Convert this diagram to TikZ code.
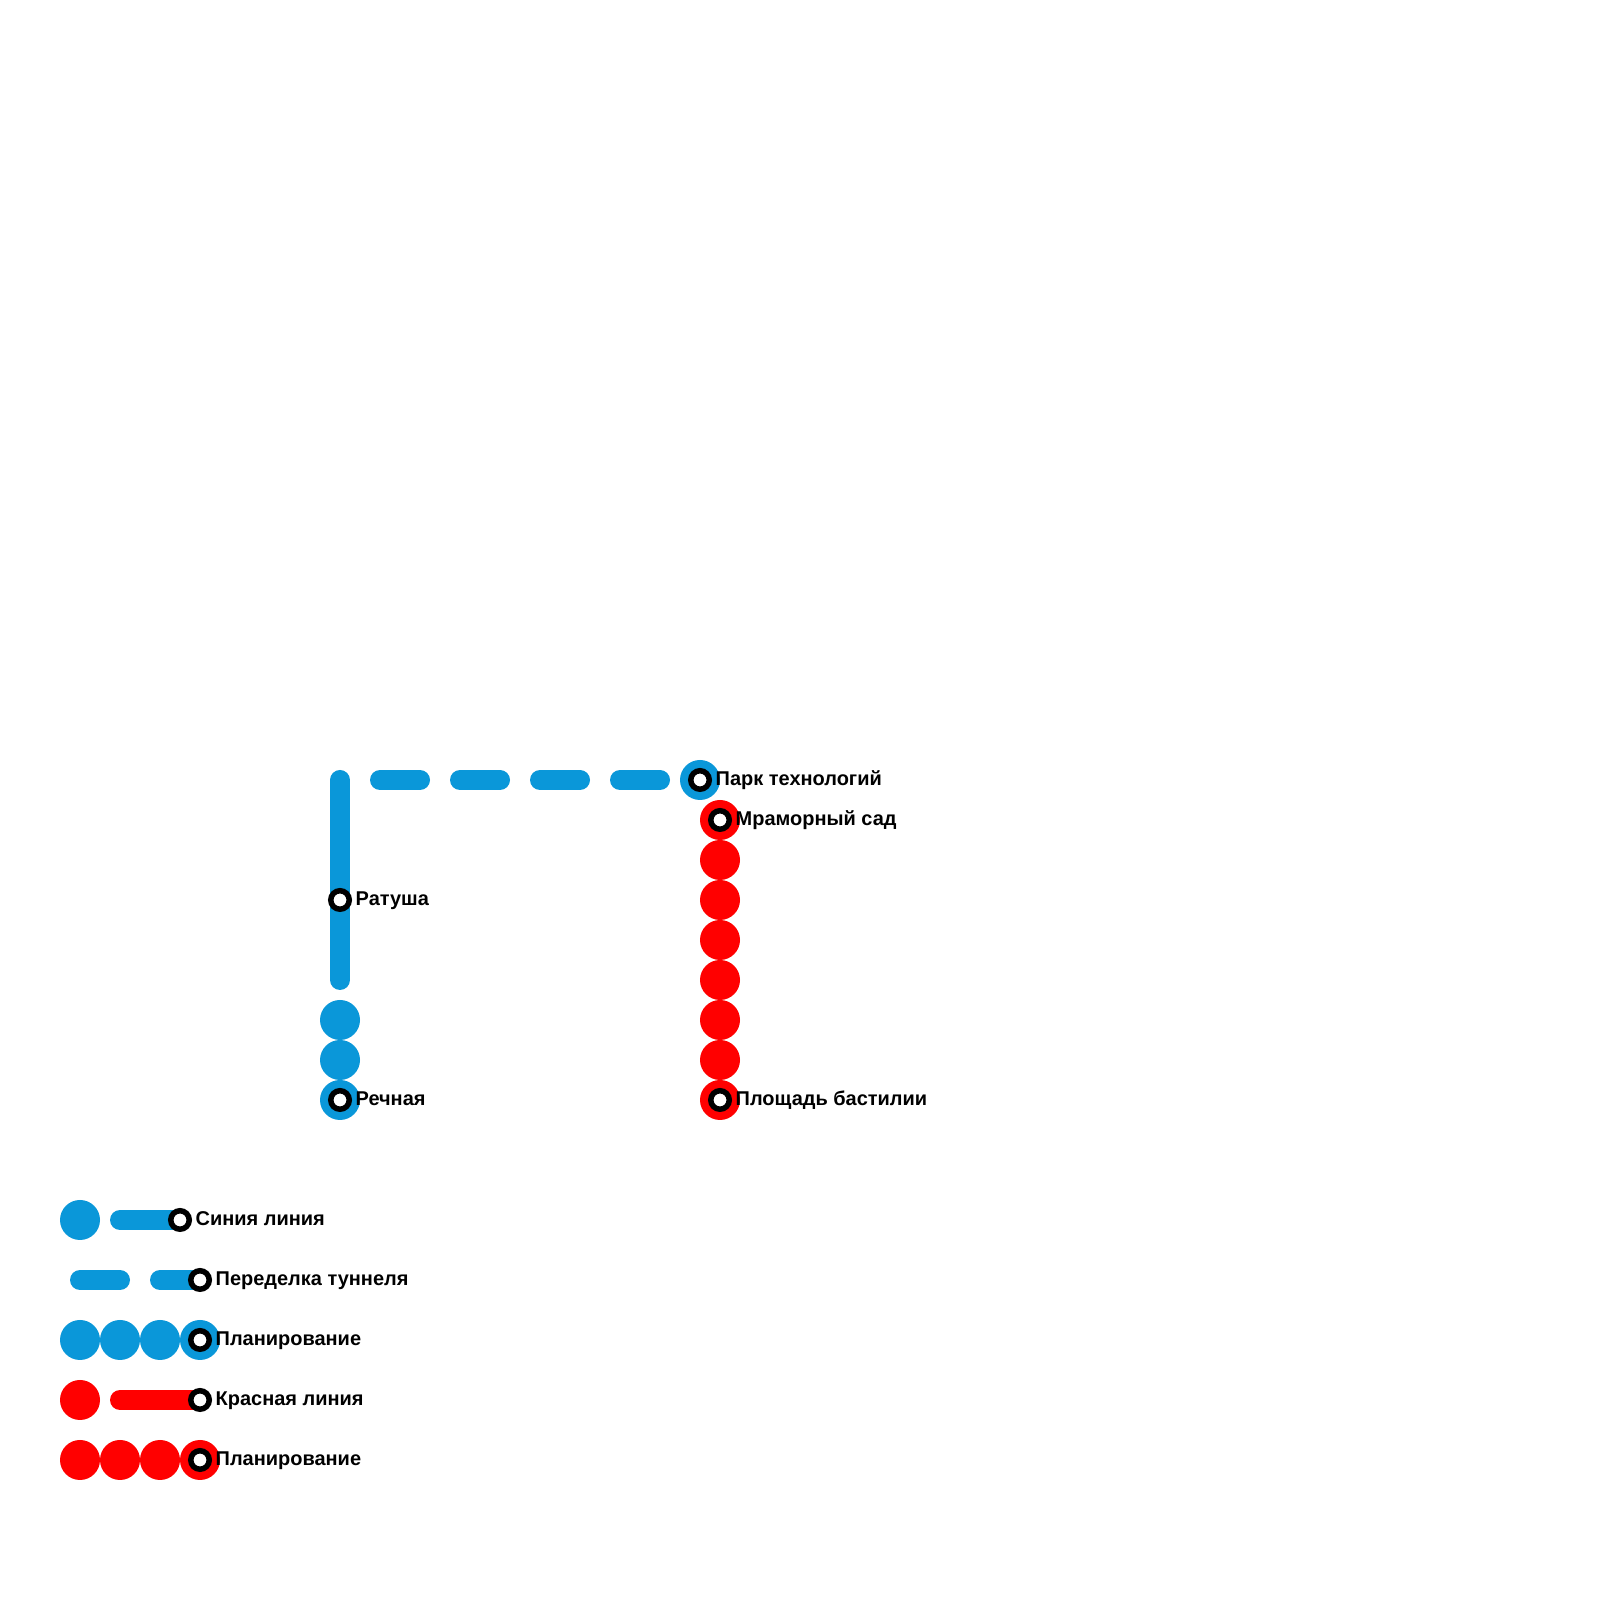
\documentclass[tikz,border=0pt]{standalone}
\usepackage{fontspec}
\setmainfont{Liberation Sans}
\usetikzlibrary{positioning}
\definecolor{blueline}{HTML}{0A97D9}
\definecolor{redline}{HTML}{FF0000}

\begin{document}
\begin{tikzpicture}[
          dot/.style={circle, fill=#1, minimum size=0.4cm, inner sep=0pt},
          track/.style={line width=0.2cm, line cap=round, draw=#1},
          tunnel/.style={track=#1, dash pattern=on 0.4cm off 0.4cm},
          station/.style={circle, draw=black, fill=white, line width=0.055cm,
            minimum size=0.185cm, inner sep=0pt},
          stname/.style={font=\fontsize{5.68pt}{6.5pt}\selectfont\bfseries, inner sep=0pt,
            text height=0.16cm, text depth=0.04cm, right=0.03cm of #1},
        ]
          \useasboundingbox (0,0) rectangle (16,16);
          % upper blue line
          \coordinate (lt) at (3.4, 8.2);
          \coordinate (lb) at (3.4, 6.2);
          \coordinate (dl) at (3.8, 8.2);
          \coordinate (dr) at (6.6, 8.2);
          \draw[track=blueline] (lt) -- (lb);
          \draw[tunnel=blueline] (dl) -- (dr);
          \foreach \y in {5.8, 5.4, 5.0}
            \node[dot=blueline] (b\y) at (3.4, \y) {};
          \node[dot=blueline] (bpark) at (7, 8.2) {};
          % red line
          \foreach \y in {7.8, 7.4, 7.0, 6.6, 6.2, 5.8, 5.4, 5.0}
            \node[dot=redline] (r\y) at (7.2, \y) {};
          % stations
          \node[station] (park)   at (7, 8.2) {};
          \node[station] (ratush) at (3.4, 7) {};
          \node[station] (rech)   at (3.4, 5) {};
          \node[station] (mram)   at (7.2, 7.8) {};
          \node[station] (bast)   at (7.2, 5) {};
          \node[stname=park]   (park-t)   {Парк технологий};
          \node[stname=ratush] (ratush-t) {Ратуша};
          \node[stname=rech]   (rech-t)   {Речная};
          \node[stname=mram]   (mram-t)   {Мраморный сад};
          \node[stname=bast]   (bast-t)   {Площадь бастилии};
          % legend
          \node[dot=blueline] (k1) at (0.8, 3.8) {};
          \coordinate (k1a) at (1.2, 3.8);
          \coordinate (k1b) at (1.8, 3.8);
          \draw[track=blueline] (k1a) -- (k1b);
          \node[station] (k1s) at (k1b) {};
          \node[stname=k1s] (k1-t) {Синия линия};
          \coordinate (k2a) at (0.8, 3.2);
          \coordinate (k2b) at (2, 3.2);
          \draw[tunnel=blueline] (k2a) -- (k2b);
          \node[station] (k2s) at (k2b) {};
          \node[stname=k2s] (k2-t) {Переделка туннеля};
          \foreach \x in {0.8, 1.2, 1.6, 2}
            \node[dot=blueline] (k3\x) at (\x, 2.6) {};
          \node[station] (k3s) at (2, 2.6) {};
          \node[stname=k3s] (k3-t) {Планирование};
          \node[dot=redline] (k4) at (0.8, 2) {};
          \coordinate (k4a) at (1.2, 2);
          \coordinate (k4b) at (2, 2);
          \draw[track=redline] (k4a) -- (k4b);
          \node[station] (k4s) at (k4b) {};
          \node[stname=k4s] (k4-t) {Красная линия};
          \foreach \x in {0.8, 1.2, 1.6, 2}
            \node[dot=redline] (k5\x) at (\x, 1.4) {};
          \node[station] (k5s) at (2, 1.4) {};
          \node[stname=k5s] (k5-t) {Планирование};
        \end{tikzpicture}
\end{document}
